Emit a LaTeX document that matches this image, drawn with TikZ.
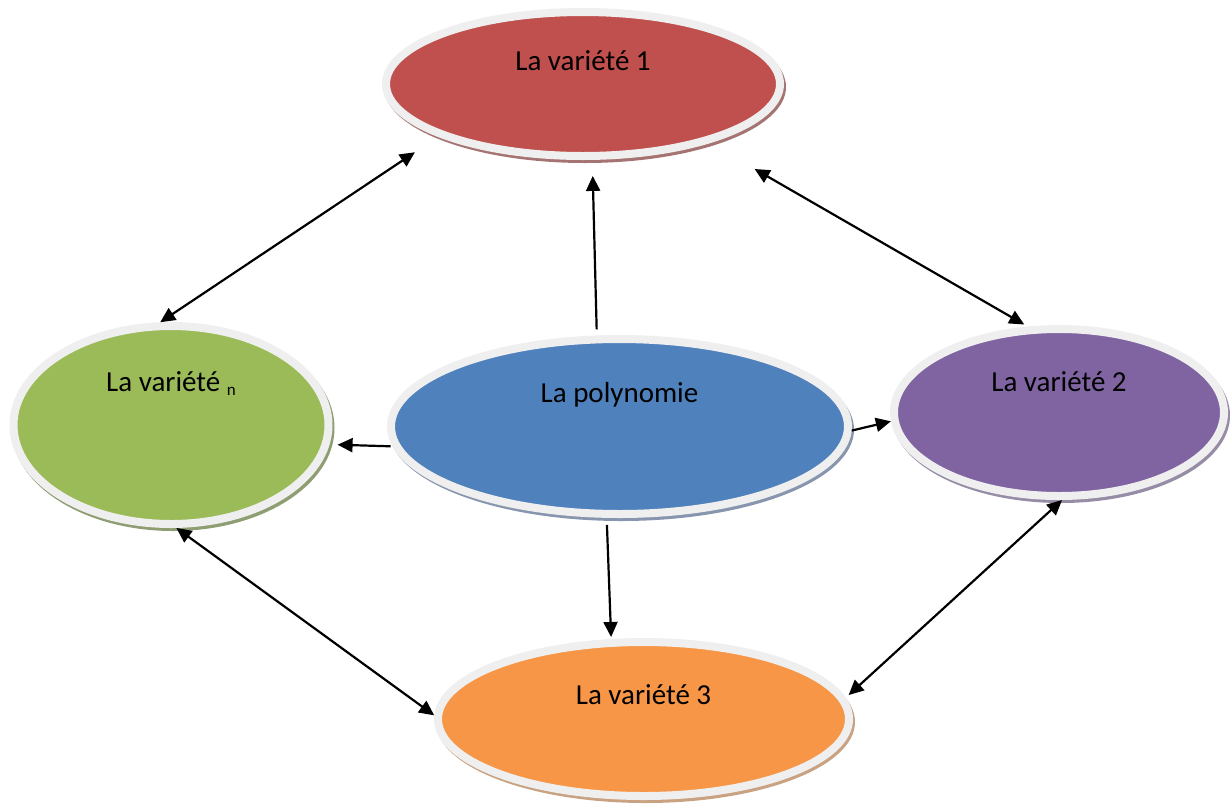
\documentclass[tikz,border=0pt]{standalone}
\usepackage{fontspec}
\setmainfont{Carlito}
\usetikzlibrary{calc,arrows.meta,shapes.geometric}
\definecolor{cred}{HTML}{C0504D}
\definecolor{cgreen}{HTML}{9BBB59}
\definecolor{cblue}{HTML}{4F81BD}
\definecolor{cpurple}{HTML}{8064A2}
\definecolor{corange}{HTML}{F79646}
\definecolor{sred}{HTML}{A57472}
\definecolor{sgreen}{HTML}{8E9D72}
\definecolor{sblue}{HTML}{8796AE}
\definecolor{spurple}{HTML}{978CA6}
\definecolor{sorange}{HTML}{C9A282}
\definecolor{ring}{HTML}{EFEFEF}
\tikzset{
  bubble/.style={ellipse, draw=ring, line width=8pt, outer sep=4pt, inner sep=0pt},
  lab/.style={font=\fontsize{29}{32}\selectfont, anchor=base, inner sep=0pt, text=black},
  arr/.style={line width=2.2pt, -{Triangle[length=15pt,width=14pt]}},
  darr/.style={line width=2.2pt, {Triangle[length=15pt,width=14pt]}-{Triangle[length=15pt,width=14pt]}},
}
\begin{document}
\begin{tikzpicture}[x=1pt,y=-1pt]
\useasboundingbox (0,0) rectangle (1230,804);
\fill[white] (0,0) rectangle (1230,804);
% centres
\coordinate (c1) at (583,84);
\coordinate (cn) at (171,425);
\coordinate (cp) at (619.5,426.5);
\coordinate (c2) at (1059,412.5);
\coordinate (c3) at (643.5,719);
% shadows
\fill[sred]    ($(c1)+(2,3)$) ellipse [x radius=201pt, y radius=76pt];
\fill[sgreen]  ($(cn)+(2,3)$) ellipse [x radius=161.5pt, y radius=103pt];
\fill[sblue]   ($(cp)+(2,3)$) ellipse [x radius=232.5pt, y radius=91.5pt];
\fill[spurple] ($(c2)+(2,3)$) ellipse [x radius=169pt, y radius=87.5pt];
\fill[sorange] ($(c3)+(2,3)$) ellipse [x radius=209.5pt, y radius=81pt];
% bubbles
\node[bubble, fill=cred,    minimum width=394pt, minimum height=144pt] (v1) at (c1) {};
\node[bubble, fill=cgreen,  minimum width=315pt, minimum height=198pt] (vn) at (cn) {};
\node[bubble, fill=cblue,   minimum width=457pt, minimum height=175pt] (poly) at (cp) {};
\node[bubble, fill=cpurple, minimum width=330pt, minimum height=167pt] (v2) at (c2) {};
\node[bubble, fill=corange, minimum width=411pt, minimum height=154pt] (v3) at (c3) {};
% labels
\node[lab] (t1) at ($(c1)+(0,-14)$) {La variété 1};
\node[lab] (tn) at ($(cn)+(0,-34)$) {La variété {\fontsize{17}{17}\selectfont\raisebox{-4pt}{n}}};
\node[lab] (tp) at ($(cp)+(0,-24)$) {La polynomie};
\node[lab] (t2) at ($(c2)+(0,-21)$) {La variété 2};
\node[lab] (t3) at ($(c3)+(0,-15)$) {La variété 3};
% connectors
\draw[darr, shorten >=28pt] (vn.96) -- (v1.200);
\draw[arr, shorten <=6pt, shorten >=16pt] (poly.104) -- (v1.277);
\draw[darr, shorten <=52pt, shorten >=4pt] (v1.335) -- (v2.110);
\draw[arr, shorten <=2pt, shorten >=8pt] (poly.185) -- (vn.353);
\draw[arr] (poly.359) -- (v2.183);
\draw[arr, shorten <=7pt, shorten >=2pt] (poly.262) -- (v3.112);
\draw[darr] (vn.273) -- (v3.179);
\draw[darr, shorten >=4pt] (v2.272) -- (v3.6);
\end{tikzpicture}
\end{document}
